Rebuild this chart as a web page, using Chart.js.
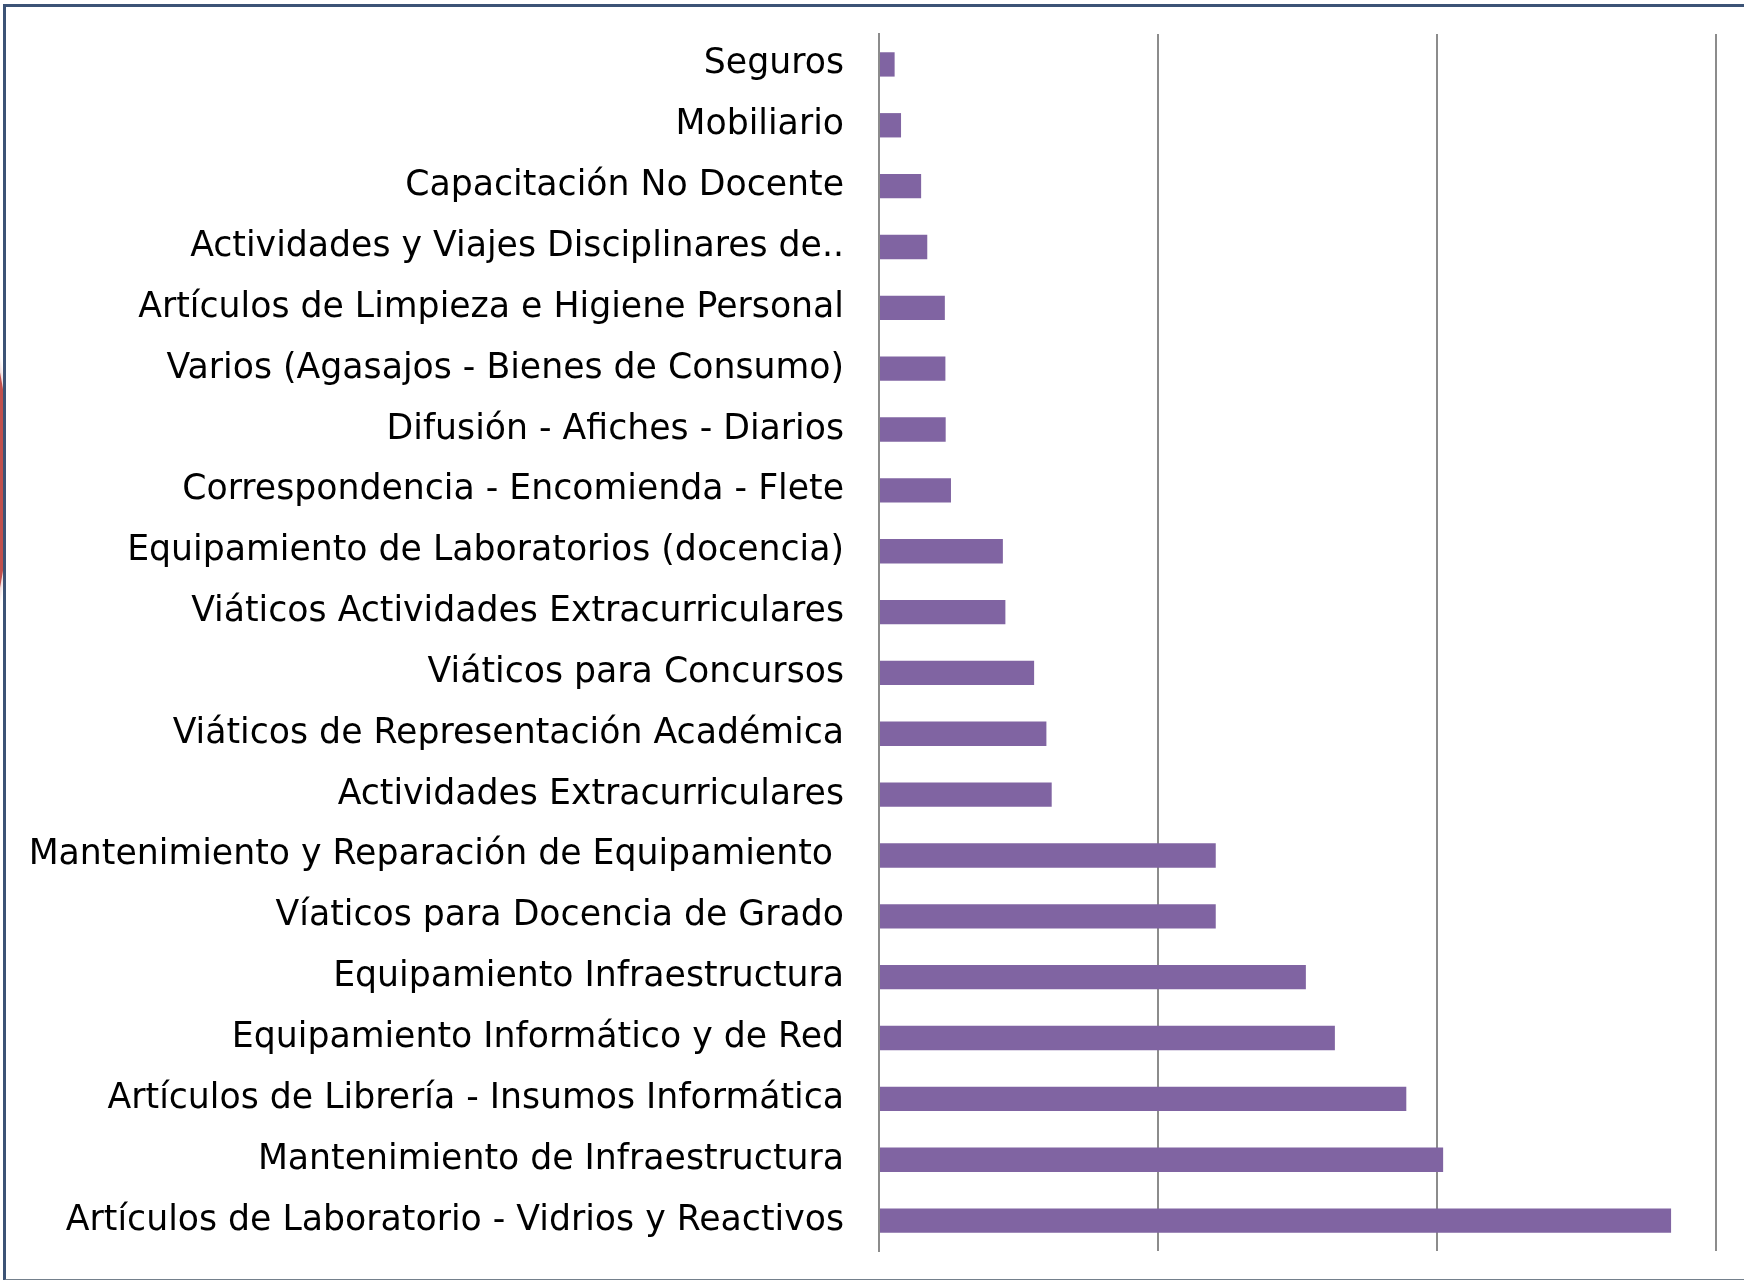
<!DOCTYPE html>
<html>
<head>
<meta charset="utf-8">
<script src="https://cdn.jsdelivr.net/npm/chart.js@4"></script>
<style>
    html, body { margin: 0; padding: 0; background: #fff; }
    body { width: 1744px; height: 1280px; position: relative; overflow: hidden; }
    #blob {
        position: absolute; left: -1051px; top: -51px; width: 1062px; height: 1062px;
        border-radius: 50%; background: #c0504d; box-shadow: 0 0 3px 2px #f0d8d8;
    }
    #frame {
        position: absolute; left: 3px; top: 4px; width: 1760px; height: 1272px;
        background: #fff; border-top: 3px solid #3c5376; border-left: 3px solid #3c5376;
        border-bottom: 2px solid #74808c;
    }
    #wrap { position: absolute; left: 0; top: 0; width: 1744px; height: 1280px; }
</style>
</head>
<body>
<div id="blob"></div>
<div id="frame"></div>
<div id="wrap"><canvas id="bars" width="1744" height="1280"></canvas></div>
<script>
const categories = [
    "Seguros",
    "Mobiliario",
    "Capacitación No Docente",
    "Actividades y Viajes Disciplinares de..",
    "Artículos de Limpieza e Higiene Personal",
    "Varios (Agasajos - Bienes de Consumo)",
    "Difusión - Afiches - Diarios",
    "Correspondencia - Encomienda - Flete",
    "Equipamiento de Laboratorios (docencia)",
    "Viáticos Actividades Extracurriculares",
    "Viáticos para Concursos",
    "Viáticos de Representación Académica",
    "Actividades Extracurriculares",
    "Mantenimiento y Reparación de Equipamiento ",
    "Víaticos para Docencia de Grado",
    "Equipamiento Infraestructura",
    "Equipamiento Informático y de Red",
    "Artículos de Librería - Insumos Informática",
    "Mantenimiento de Infraestructura",
    "Artículos de Laboratorio - Vidrios y Reactivos"
]

// relative amounts, one grid step = 100
const amounts = [5.6, 7.9, 15.1, 17.3, 23.6, 23.8, 23.9, 25.8, 44.4, 45.3,
                 55.6, 60.0, 61.9, 120.7, 120.7, 153.0, 163.4, 189.0, 202.2, 283.9]

const gridSteps = [0, 100, 200, 300]

const ctx = document.getElementById("bars");
var myBars = new Chart(ctx, {
    type: 'bar',
    data: {
        labels: categories,
        datasets: [{
            data: amounts,
            backgroundColor: "#8064a2",
            borderWidth: 0,
            categoryPercentage: 1,
            barPercentage: 0.4
        }]
    },
    options: {
        indexAxis: 'y',
        responsive: false,
        animation: false,
        layout: {
            padding: {top: 34, right: 28, bottom: 29, left: 0}
        },
        plugins: {
            legend: {display: false},
            tooltip: {enabled: false}
        },
        scales: {
            x: {
                min: gridSteps[0],
                max: gridSteps[gridSteps.length - 1],
                ticks: {display: false, stepSize: 100},
                grid: {color: "#8c8c8c", lineWidth: 2, drawTicks: false},
                border: {display: false},
                afterFit: (scale) => { scale.height = 0; }
            },
            y: {
                grid: {display: false, drawTicks: false},
                border: {display: true, color: "#8c8c8c", width: 2},
                ticks: {
                    color: "#000",
                    padding: 35,
                    autoSkip: false,
                    font: {family: "'DejaVu Sans', Verdana, sans-serif", size: 34.7}
                },
                afterFit: (scale) => {
                    scale.width = 879;
                    scale.paddingTop = 0;
                    scale.paddingBottom = 0;
                }
            }
        }
    }
});
</script>
</body>
</html>
